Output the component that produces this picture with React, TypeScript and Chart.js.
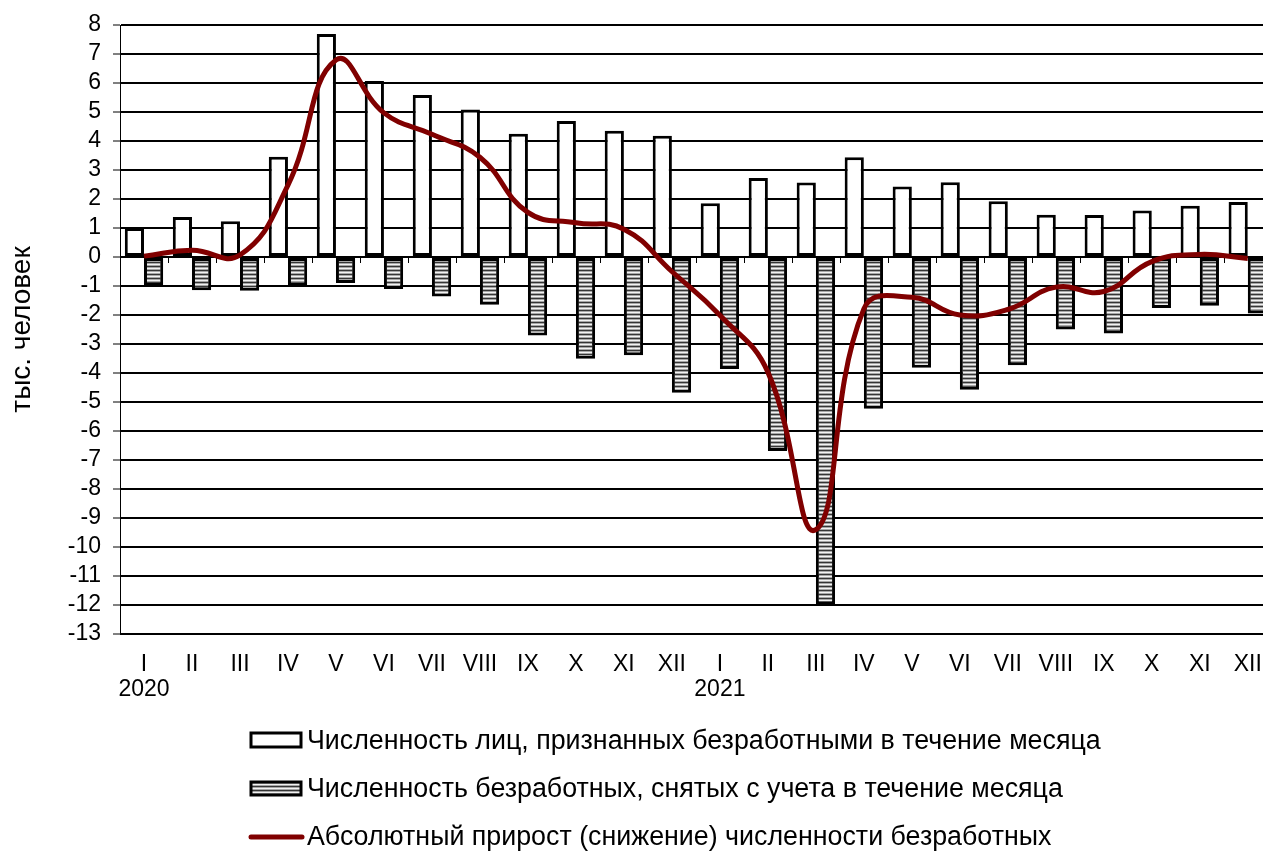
import React, { useEffect, useRef } from "react";
import { Chart, registerables } from "chart.js";

Chart.register(...registerables);

const MONTHS = ["I", "II", "III", "IV", "V", "VI", "VII", "VIII", "IX", "X", "XI", "XII"];
const YEARS = ["2020", "2021"];

const registered = [
  1.0, 1.38, 1.23, 3.46, 7.69, 6.07, 5.59, 5.09, 4.25, 4.69, 4.35, 4.18,
  1.85, 2.72, 2.57, 3.44, 2.43, 2.58, 1.92, 1.46, 1.45, 1.6, 1.77, 1.9,
];
const removed = [
  -0.97, -1.15, -1.16, -0.98, -0.9, -1.1, -1.36, -1.65, -2.71, -3.51, -3.39, -4.68,
  -3.86, -6.69, -11.97, -5.23, -3.82, -4.58, -3.73, -2.5, -2.64, -1.76, -1.68, -1.95,
];
const growth = [
  0.03, 0.23, 0.07, 2.48, 6.79, 4.97, 4.23, 3.44, 1.54, 1.18, 0.96, -0.5,
  -2.01, -3.97, -9.4, -1.79, -1.39, -2.0, -1.81, -1.04, -1.19, -0.16, 0.09, -0.05,
];

const LABEL_REG = "Численность лиц, признанных безработными в течение месяца";
const LABEL_REM = "Численность безработных, снятых с учета в течение месяца";
const LABEL_GROWTH = "Абсолютный прирост (снижение) численности безработных";
const Y_TITLE = "тыс. человек";

const FONT = '"Liberation Sans", Arial, sans-serif';
const LINE_COLOR = "#800000";

function makePattern(): CanvasPattern | string {
  const c = document.createElement("canvas");
  c.width = 4;
  c.height = 4;
  const g = c.getContext("2d");
  if (!g) return "#888";
  const rows = ["#f2f2f2", "#a6a6a6", "#353535", "#a6a6a6"];
  rows.forEach((col, i) => {
    g.fillStyle = col;
    g.fillRect(0, i, 4, 1);
  });
  const p = g.createPattern(c, "repeat");
  return p || "#888";
}

export default function App() {
  const ref = useRef<HTMLCanvasElement | null>(null);

  useEffect(() => {
    const canvas = ref.current;
    if (!canvas) return;
    const pattern = makePattern();

    const labels: string[][] = [];
    YEARS.forEach((y) => {
      MONTHS.forEach((m, i) => {
        labels.push(i === 0 ? [m, y] : [m, ""]);
      });
    });

    const axisTicks = {
      id: "axisTicks",
      beforeDatasetsDraw(chart: any) {
        const x = chart.scales.x;
        const y = chart.scales.y;
        const ctx = chart.ctx;
        const y0 = y.getPixelForValue(0);
        ctx.save();
        ctx.strokeStyle = "#000";
        ctx.lineWidth = 1;
        for (let i = 1; i < labels.length; i++) {
          const px = Math.round(x.getPixelForValue(i - 0.5)) + 0.5;
          ctx.beginPath();
          ctx.moveTo(px, y0);
          ctx.lineTo(px, y0 + 6);
          ctx.stroke();
        }
        ctx.restore();
      },
    };

    const legendPlugin = {
      id: "customLegend",
      afterDraw(chart: any) {
        const ctx = chart.ctx;
        ctx.save();
        ctx.font = `26.8px ${FONT}`;
        ctx.fillStyle = "#000";
        ctx.textBaseline = "middle";
        ctx.textAlign = "left";
        const bx = 251;
        const bw = 50;
        const tx = 307;
        // row 1
        ctx.fillStyle = "#fff";
        ctx.fillRect(bx, 733, bw, 14);
        ctx.strokeStyle = "#000";
        ctx.lineWidth = 3;
        ctx.strokeRect(bx, 733, bw, 14);
        ctx.fillStyle = "#000";
        ctx.fillText(LABEL_REG, tx, 742);
        // row 2
        ctx.fillStyle = pattern as any;
        ctx.fillRect(bx, 782, bw, 13);
        ctx.strokeRect(bx, 782, bw, 13);
        ctx.fillStyle = "#000";
        ctx.fillText(LABEL_REM, tx, 790);
        // row 3
        ctx.strokeStyle = LINE_COLOR;
        ctx.lineWidth = 5;
        ctx.lineCap = "round";
        ctx.beginPath();
        ctx.moveTo(251, 837);
        ctx.lineTo(302, 837);
        ctx.stroke();
        ctx.fillStyle = "#000";
        ctx.fillText(LABEL_GROWTH, tx, 838);
        ctx.restore();
      },
    };

    const chart = new Chart(canvas, {
      type: "bar",
      data: {
        labels,
        datasets: [
          {
            type: "line",
            label: LABEL_GROWTH,
            data: growth,
            borderColor: LINE_COLOR,
            borderWidth: 5,
            pointRadius: 0,
            tension: 0.45,
            fill: false,
            order: 0,
          } as any,
          {
            type: "bar",
            label: LABEL_REG,
            data: registered,
            backgroundColor: "#ffffff",
            borderColor: "#000000",
            borderWidth: 3,
            borderSkipped: false,
            categoryPercentage: 0.8,
            barPercentage: 1.0,
            order: 1,
          },
          {
            type: "bar",
            label: LABEL_REM,
            data: removed,
            backgroundColor: pattern as any,
            borderColor: "#000000",
            borderWidth: 3,
            borderSkipped: false,
            categoryPercentage: 0.8,
            barPercentage: 1.0,
            order: 2,
          },
        ],
      },
      options: {
        responsive: false,
        animation: false,
        devicePixelRatio: 1,
        layout: { padding: { left: 0, right: 8, top: 25, bottom: 0 } },
        plugins: {
          legend: { display: false },
          tooltip: { enabled: false },
          title: { display: false },
        },
        scales: {
          x: {
            grid: { display: false, drawTicks: false },
            border: { display: false },
            ticks: {
              color: "#000",
              font: { family: FONT, size: 23, lineHeight: 1.1 },
              padding: 18,
              maxRotation: 0,
              autoSkip: false,
            },
            afterFit(scale: any) {
              scale.height = 217;
            },
          },
          y: {
            min: -13,
            max: 8,
            grid: {
              color: "#000",
              lineWidth: 2,
              drawTicks: true,
              tickLength: 7,
              tickWidth: 1,
              tickColor: "#000",
            },
            border: { display: true, color: "#000", width: 1 },
            ticks: {
              stepSize: 1,
              autoSkip: false,
              color: "#000",
              font: { family: FONT, size: 23, lineHeight: 1 },
              padding: 12,
            },
            title: {
              display: true,
              text: Y_TITLE,
              color: "#000",
              font: { family: FONT, size: 28, lineHeight: 1.2 },
              padding: { top: 5, bottom: 0 },
            },
            afterFit(scale: any) {
              scale.width = 120;
            },
          },
        },
      },
      plugins: [axisTicks, legendPlugin],
    });

    return () => {
      chart.destroy();
    };
  }, []);

  return (
    <div
      style={{
        position: "fixed",
        left: 0,
        top: 0,
        width: 1263,
        height: 851,
        overflow: "hidden",
        background: "#fff",
      }}
    >
      <canvas ref={ref} width={1280} height={851} style={{ width: 1280, height: 851, display: "block" }} />
    </div>
  );
}
